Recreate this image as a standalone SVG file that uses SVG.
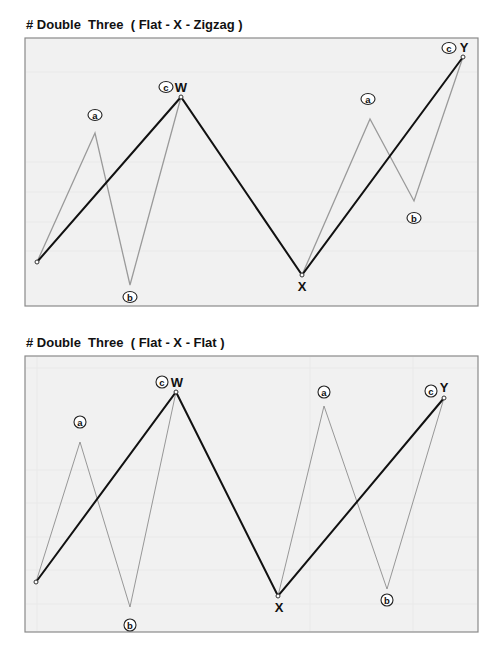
<svg xmlns="http://www.w3.org/2000/svg" width="499" height="656" viewBox="0 0 499 656">
<style>
.title{font-family:"Liberation Sans",Arial,sans-serif;font-size:13px;font-weight:bold;fill:#111;white-space:pre}
.panel{fill:#f1f1f1;stroke:#8a8a8a;stroke-width:1.2}
.grid{stroke:#e9e9e9;stroke-width:1}
.wave{fill:none;stroke:#111;stroke-width:2;stroke-linejoin:miter}
.sub1{fill:none;stroke:#9a9a9a;stroke-width:1.3}
.sub2{fill:none;stroke:#8c8c8c;stroke-width:0.9}
.pt{fill:#fff;stroke:#333;stroke-width:1}
.lbl{font-family:"Liberation Sans",Arial,sans-serif;font-size:13px;font-weight:bold;fill:#111;text-anchor:middle}
.cl{fill:#fff;stroke:#222;stroke-width:1.1}
.ct{font-family:"Liberation Sans",Arial,sans-serif;font-size:9.5px;font-weight:bold;fill:#111;text-anchor:middle}
</style>

<!-- Panel 1 -->
<text class="title" x="26" y="29" xml:space="preserve"># Double  Three  ( Flat - X - Zigzag )</text>
<g id="panel1">
  <rect class="panel" x="25" y="38" width="453" height="268"/>
  <g class="grid">
    <line x1="26" y1="72" x2="477" y2="72"/>
    <line x1="26" y1="162" x2="477" y2="162"/>
    <line x1="26" y1="192" x2="477" y2="192"/>
    <line x1="26" y1="222" x2="477" y2="222"/>
    <line x1="26" y1="251" x2="477" y2="251"/>
  </g>
</g>
<g id="connectors1">
  <polyline class="sub1" points="37,262 95,133 130,285 181,97"/>
  <polyline class="sub1" points="302,275 370,119 414,201 463,57"/>
  <polyline class="wave" points="37,262 181,97 302,275 463,57"/>
</g>
<g id="p1-start"><circle class="pt" cx="37" cy="262" r="2"/></g>
<g id="p1-a1"><ellipse class="cl" cx="95" cy="115" rx="7" ry="5.5"/><text class="ct" x="95" y="118.5">a</text></g>
<g id="p1-b1"><ellipse class="cl" cx="130" cy="297" rx="7" ry="5.5"/><text class="ct" x="130" y="300.5">b</text></g>
<g id="p1-W"><circle class="pt" cx="181" cy="97" r="2"/><ellipse class="cl" cx="166" cy="87" rx="7" ry="5.5"/><text class="ct" x="166" y="90.5">c</text><text class="lbl" x="181" y="92">W</text></g>
<g id="p1-X"><circle class="pt" cx="302" cy="275" r="2"/><text class="lbl" x="302" y="291">X</text></g>
<g id="p1-a2"><ellipse class="cl" cx="368" cy="99" rx="7" ry="5.5"/><text class="ct" x="368" y="102.5">a</text></g>
<g id="p1-b2"><ellipse class="cl" cx="414" cy="218" rx="7" ry="5.5"/><text class="ct" x="414" y="221.5">b</text></g>
<g id="p1-Y"><circle class="pt" cx="463" cy="57" r="2"/><ellipse class="cl" cx="449" cy="48" rx="7" ry="5.5"/><text class="ct" x="449" y="51.5">c</text><text class="lbl" x="464" y="52">Y</text></g>

<!-- Panel 2 -->
<text class="title" x="26" y="347" xml:space="preserve"># Double  Three  ( Flat - X - Flat )</text>
<g id="panel2">
  <rect class="panel" x="25" y="356" width="453" height="276"/>
  <g class="grid">
    <line x1="26" y1="368" x2="477" y2="368"/>
    <line x1="26" y1="470" x2="477" y2="470"/>
    <line x1="26" y1="503" x2="477" y2="503"/>
    <line x1="26" y1="537" x2="477" y2="537"/>
    <line x1="26" y1="570" x2="477" y2="570"/>
    <line x1="26" y1="604" x2="477" y2="604"/>
    <line x1="37" y1="357" x2="37" y2="631"/>
    <line x1="310" y1="357" x2="310" y2="631"/>
    <line x1="413" y1="357" x2="413" y2="631"/>
  </g>
</g>
<g id="connectors2">
  <polyline class="sub2" points="36,582 80,442 130,607 176,392"/>
  <polyline class="sub2" points="278,596 324,406 387,589 444,398"/>
  <polyline class="wave" points="36,582 176,392 278,596 444,398"/>
</g>
<g id="p2-start"><circle class="pt" cx="36" cy="582" r="2"/></g>
<g id="p2-a1"><circle class="cl" cx="80" cy="422" r="6"/><text class="ct" x="80" y="425.5">a</text></g>
<g id="p2-b1"><circle class="cl" cx="130" cy="625" r="6"/><text class="ct" x="130" y="628.5">b</text></g>
<g id="p2-W"><circle class="pt" cx="176" cy="392" r="2"/><circle class="cl" cx="162" cy="382" r="6"/><text class="ct" x="162" y="385.5">c</text><text class="lbl" x="177" y="387">W</text></g>
<g id="p2-X"><circle class="pt" cx="278" cy="596" r="2"/><text class="lbl" x="279" y="612">X</text></g>
<g id="p2-a2"><circle class="cl" cx="324" cy="392" r="6"/><text class="ct" x="324" y="395.5">a</text></g>
<g id="p2-b2"><circle class="cl" cx="387" cy="600" r="6"/><text class="ct" x="387" y="603.5">b</text></g>
<g id="p2-Y"><circle class="pt" cx="444" cy="398" r="2"/><circle class="cl" cx="431" cy="391" r="6"/><text class="ct" x="431" y="394.5">c</text><text class="lbl" x="444" y="392">Y</text></g>
</svg>
